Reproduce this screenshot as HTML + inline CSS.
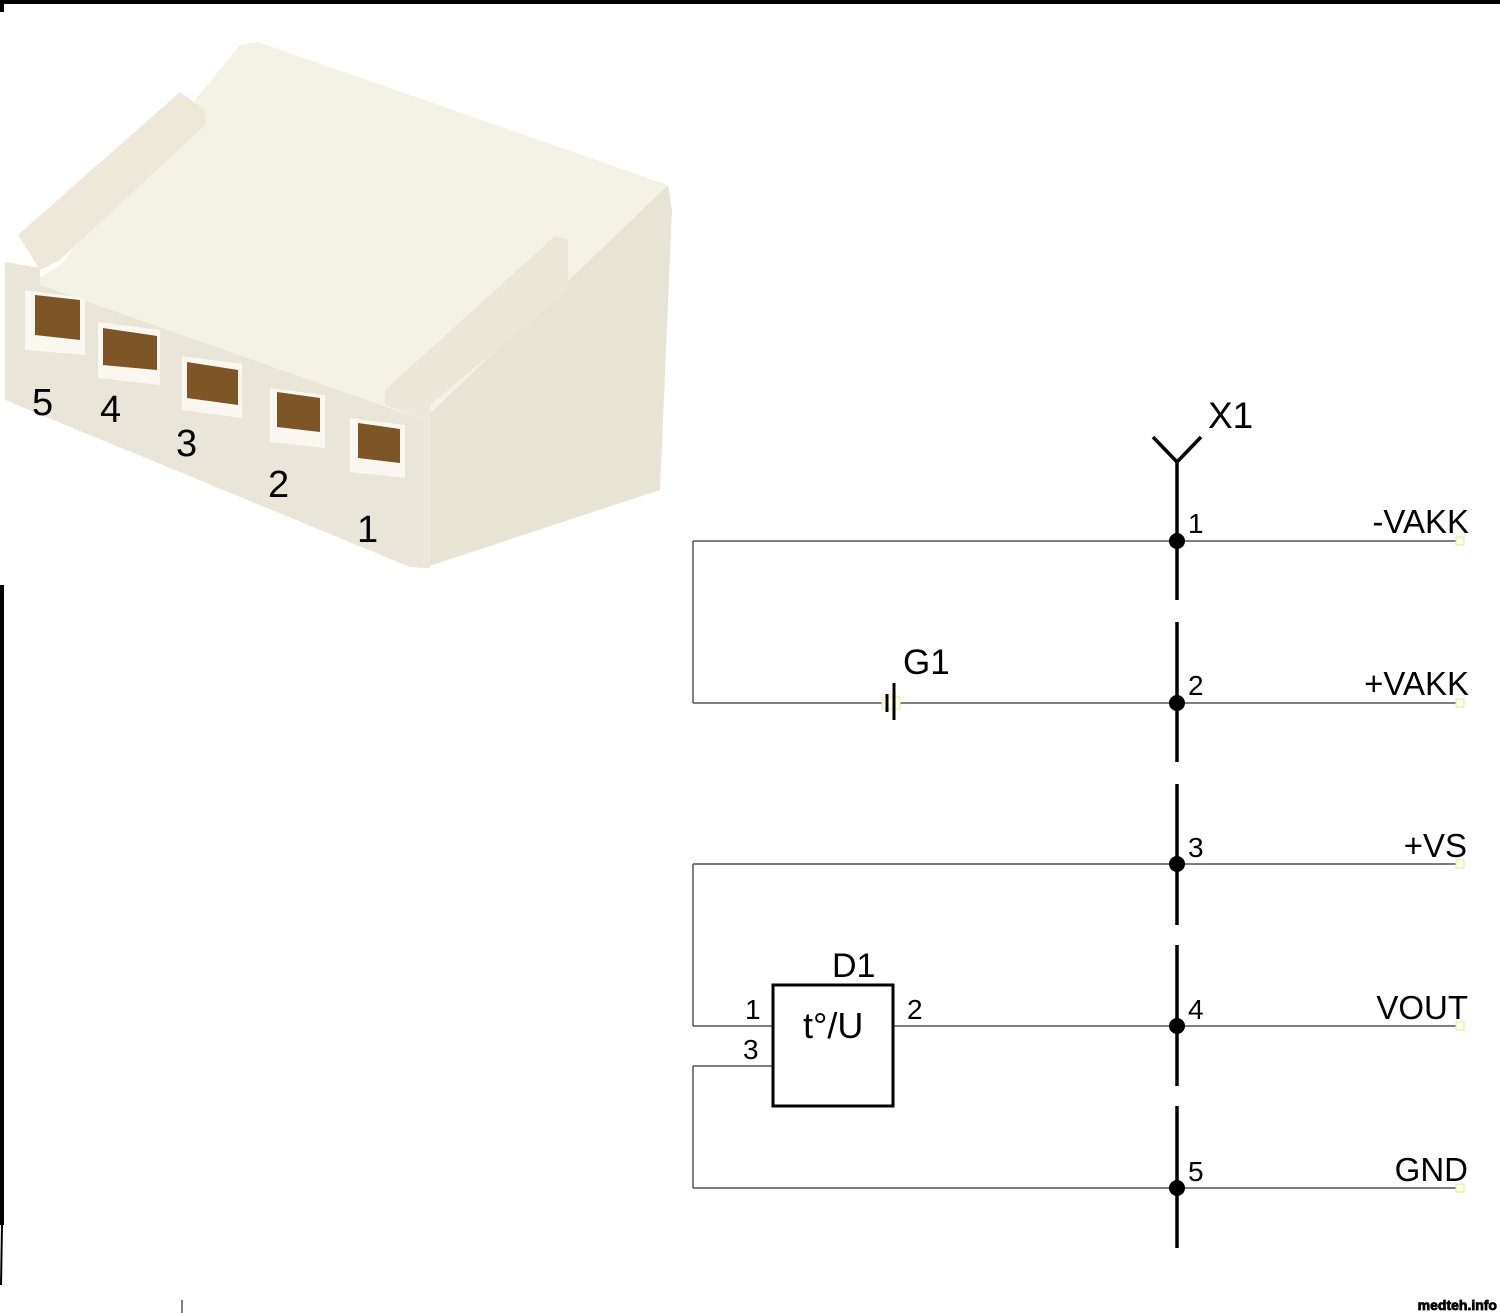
<!DOCTYPE html>
<html><head><meta charset="utf-8"><style>
html,body{margin:0;padding:0;background:#fff;}
svg{display:block;}
text{font-family:"Liberation Sans",Arial,sans-serif;fill:#000;}
</style></head><body>
<svg width="1500" height="1313" viewBox="0 0 1500 1313" xmlns="http://www.w3.org/2000/svg">
<rect x="0" y="0" width="1500" height="1313" fill="#fff"/>
<rect x="0" y="0" width="1500" height="4" fill="#000"/>
<rect x="0" y="0" width="4" height="12" fill="#000"/>
<rect x="0" y="585" width="4" height="640" fill="#000"/>
<line x1="2" y1="1225" x2="1" y2="1285" stroke="#000" stroke-width="2"/>
<line x1="182" y1="1300" x2="182" y2="1313" stroke="#000" stroke-width="1"/>

<!-- connector -->
<g>
  <!-- right side face -->
  <polygon points="423,420 668,185 672,210 660,490 423,568" fill="#e7e3d5"/>
  <!-- top face -->
  <polygon points="60,265 240,45 258,42 668,185 423,420 20,290" fill="#f4f1e5"/>
  <!-- left lip -->
  <polygon points="18,235 180,92 205,110 205,125 60,260 40,270" fill="#ede8d9"/>
  <!-- right lip -->
  <polygon points="385,390 555,236 568,240 568,290 430,405" fill="#ebe6d7"/>
  <!-- front face -->
  <polygon points="5,262 40,268 40,285 423,420 423,568 410,567 5,400" fill="#e9e5d8"/>
  <polygon points="385,390 430,405 430,568 423,568 423,420 385,405" fill="#ebe7da"/>
  <!-- sockets surrounds -->
  <g fill="#f9f7f0">
    <polygon points="25,290 85,298 85,355 25,350"/>
    <polygon points="98,322 160,330 160,385 98,378"/>
    <polygon points="182,356 242,364 242,418 182,410"/>
    <polygon points="270,388 325,395 325,448 270,442"/>
    <polygon points="350,418 405,425 405,478 350,472"/>
  </g>
  <g fill="#7e5526">
    <polygon points="35,295 80,300 80,340 35,335"/>
    <polygon points="103,328 157,336 157,370 103,365"/>
    <polygon points="187,362 238,370 238,405 187,398"/>
    <polygon points="277,392 320,398 320,432 277,427"/>
    <polygon points="358,423 400,429 400,463 358,458"/>
  </g>
  <g font-family="Liberation Serif, serif" font-size="38">
    <text x="32" y="415">5</text>
    <text x="100" y="422">4</text>
    <text x="176" y="456">3</text>
    <text x="268" y="497">2</text>
    <text x="357" y="542">1</text>
  </g>
</g>

<!-- schematic -->
<g stroke="#555" stroke-width="1.5" fill="none">
  <line x1="693" y1="541" x2="1460" y2="541"/>
  <line x1="693" y1="703" x2="1460" y2="703"/>
  <line x1="693" y1="864" x2="1460" y2="864"/>
  <line x1="893" y1="1026" x2="1460" y2="1026"/>
  <line x1="693" y1="1026" x2="773" y2="1026"/>
  <line x1="693" y1="1066" x2="773" y2="1066"/>
  <line x1="693" y1="1188" x2="1460" y2="1188"/>
  <line x1="693" y1="541" x2="693" y2="703"/>
  <line x1="693" y1="864" x2="693" y2="1026"/>
  <line x1="693" y1="1066" x2="693" y2="1188"/>
</g>
<rect x="882" y="697" width="18" height="12" fill="#ffffe0" stroke="#e8e8a0" stroke-width="1"/>
<line x1="887" y1="694" x2="887" y2="712" stroke="#000" stroke-width="3"/>
<line x1="894" y1="683" x2="894" y2="720" stroke="#000" stroke-width="3"/>
<text x="903" y="674" font-size="35">G1</text>
<rect x="773" y="985" width="120" height="121" fill="#fff" stroke="#000" stroke-width="3"/>
<text x="832" y="977" font-size="34">D1</text>
<text x="803" y="1038" font-size="36">t°/U</text>
<text x="745" y="1019" font-size="28">1</text>
<text x="743" y="1059" font-size="28">3</text>
<text x="907" y="1019" font-size="28">2</text>
<g stroke="#000" stroke-width="3.5">
  <line x1="1177" y1="462" x2="1177" y2="600"/>
  <line x1="1177" y1="622" x2="1177" y2="762"/>
  <line x1="1177" y1="784" x2="1177" y2="925"/>
  <line x1="1177" y1="945" x2="1177" y2="1086"/>
  <line x1="1177" y1="1106" x2="1177" y2="1248"/>
  <line x1="1177" y1="462" x2="1153" y2="437"/>
  <line x1="1177" y1="462" x2="1201" y2="437"/>
</g>
<g fill="#000">
  <circle cx="1177" cy="541" r="8"/>
  <circle cx="1177" cy="703" r="8"/>
  <circle cx="1177" cy="864" r="8"/>
  <circle cx="1177" cy="1026" r="8"/>
  <circle cx="1177" cy="1188" r="8"/>
</g>
<text x="1208" y="428" font-size="37">X1</text>
<g font-size="28">
  <text x="1188" y="533">1</text>
  <text x="1188" y="695">2</text>
  <text x="1188" y="857">3</text>
  <text x="1188" y="1019">4</text>
  <text x="1188" y="1181">5</text>
</g>
<g font-size="33" text-anchor="end">
  <text x="1469" y="533">-VAKK</text>
  <text x="1469" y="695">+VAKK</text>
  <text x="1467" y="857">+VS</text>
  <text x="1468" y="1019">VOUT</text>
  <text x="1468" y="1181">GND</text>
</g>
<g fill="#ffffe0" stroke="#e6e6a0" stroke-width="1">
  <rect x="1456" y="537" width="8" height="8"/>
  <rect x="1456" y="699" width="8" height="8"/>
  <rect x="1456" y="860" width="8" height="8"/>
  <rect x="1456" y="1022" width="8" height="8"/>
  <rect x="1456" y="1184" width="8" height="8"/>
</g>
<text x="1497" y="1310" font-size="14" text-anchor="end" font-weight="bold" fill="#fff" stroke="#000" stroke-width="0.8">medteh.info</text>
</svg>
</body></html>
